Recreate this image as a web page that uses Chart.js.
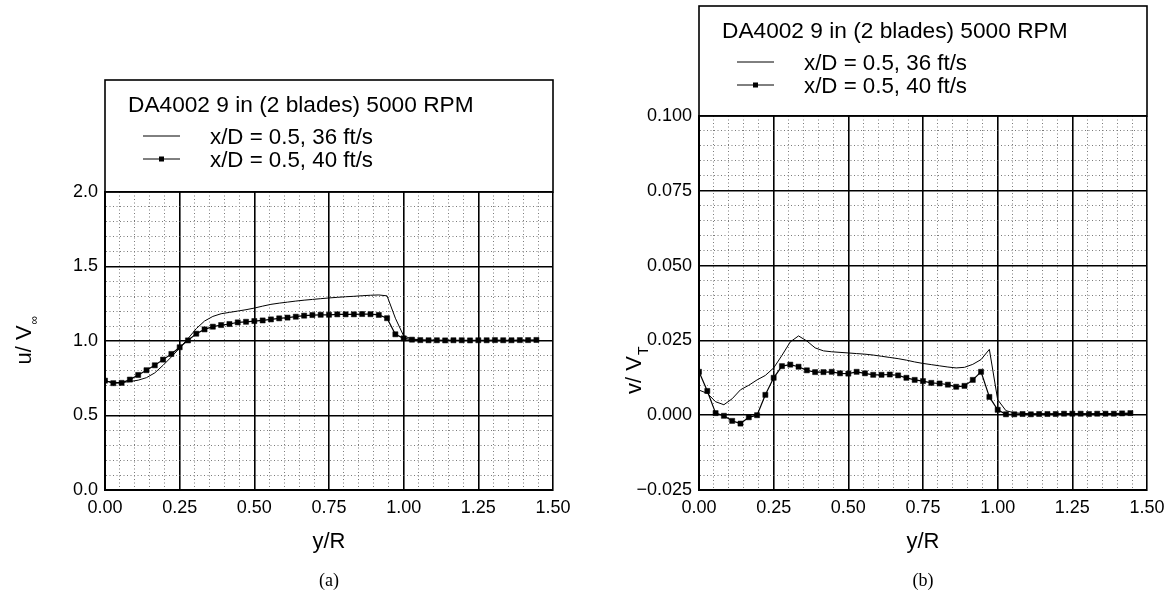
<!DOCTYPE html>
<html>
<head>
<meta charset="utf-8">
<script src="https://cdn.jsdelivr.net/npm/chart.js@4.4.0/dist/chart.umd.min.js"></script>
<style>
  html, body { margin: 0; padding: 0; background: #fff; }
  #wrap { position: relative; width: 1173px; height: 598px; }
  canvas { position: absolute; top: 0; }
</style>
</head>
<body>
<div id="wrap">
  <canvas id="chartA" width="586" height="598" style="left:0"></canvas>
  <canvas id="chartB" width="587" height="598" style="left:586px"></canvas>
</div>
<script>
// y/R stations (1/8 in steps, R = 4.5 in)
const yR = [0, 0.0278, 0.0556, 0.0833, 0.1111, 0.1389, 0.1667, 0.1944, 0.2222, 0.25,
  0.2778, 0.3056, 0.3333, 0.3611, 0.3889, 0.4167, 0.4444, 0.4722, 0.5,
  0.5278, 0.5556, 0.5833, 0.6111, 0.6389, 0.6667, 0.6944, 0.7222, 0.75,
  0.7778, 0.8056, 0.8333, 0.8611, 0.8889, 0.9167, 0.9444, 0.9722, 1.0,
  1.0278, 1.0556, 1.0833, 1.1111, 1.1389, 1.1667, 1.1944, 1.2222, 1.25,
  1.2778, 1.3056, 1.3333, 1.3611, 1.3889, 1.4167, 1.4444];

// (a) u / V_inf
const u36 = [0.732, 0.722, 0.721, 0.728, 0.737, 0.754, 0.786, 0.837, 0.893, 0.953,
  1.016, 1.083, 1.134, 1.165, 1.183, 1.192, 1.201, 1.210, 1.221, 1.234,
  1.246, 1.254, 1.261, 1.268, 1.274, 1.279, 1.284, 1.289, 1.293, 1.297,
  1.300, 1.304, 1.307, 1.309, 1.303, 1.153, 1.034, 1.014, 1.008, 1.006,
  1.005, 1.004, 1.004, 1.003, 1.003, 1.003, 1.002, 1.002, 1.002, 1.002,
  1.002, 1.002, 1.002];
const u40 = [0.734, 0.717, 0.719, 0.741, 0.772, 0.804, 0.837, 0.875, 0.913, 0.958,
  1.004, 1.049, 1.078, 1.096, 1.107, 1.114, 1.125, 1.129, 1.134, 1.138,
  1.145, 1.152, 1.157, 1.163, 1.170, 1.174, 1.176, 1.176, 1.179, 1.179,
  1.179, 1.181, 1.180, 1.175, 1.153, 1.045, 1.018, 1.009, 1.006, 1.005,
  1.005, 1.004, 1.005, 1.005, 1.004, 1.005, 1.005, 1.006, 1.005, 1.005,
  1.006, 1.006, 1.007];

// (b) v / V_T
const v36 = [0.0084, 0.0073, 0.0045, 0.0035, 0.0055, 0.0085, 0.0100, 0.0118, 0.0133, 0.0158,
  0.0200, 0.0245, 0.0265, 0.0248, 0.0225, 0.0215, 0.0212, 0.0210, 0.0208, 0.0206,
  0.0204, 0.0201, 0.0197, 0.0193, 0.0189, 0.0184, 0.0178, 0.0173, 0.0169, 0.0165,
  0.0161, 0.0158, 0.0160, 0.0170, 0.0186, 0.0220, 0.0052, 0.0015, 0.0008, 0.0006,
  0.0005, 0.0005, 0.0005, 0.0005, 0.0005, 0.0005, 0.0005, 0.0005, 0.0005, 0.0005,
  0.0005, 0.0005, 0.0005];
const v40 = [0.0145, 0.0081, 0.0007, -0.0002, -0.0019, -0.0028, -0.0007, 0.0000, 0.0068, 0.0125,
  0.0164, 0.0169, 0.0162, 0.0150, 0.0144, 0.0144, 0.0145, 0.0140, 0.0139, 0.0145,
  0.0140, 0.0135, 0.0135, 0.0136, 0.0133, 0.0125, 0.0118, 0.0114, 0.0108, 0.0106,
  0.0102, 0.0095, 0.0098, 0.0118, 0.0145, 0.0061, 0.0018, 0.0003, 0.0003, 0.0004,
  0.0003, 0.0004, 0.0004, 0.0004, 0.0005, 0.0005, 0.0005, 0.0004, 0.0005, 0.0005,
  0.0005, 0.0006, 0.0007];

const seriesNames = ['x/D = 0.5, 36 ft/s', 'x/D = 0.5, 40 ft/s'];
const legendTitle = 'DA4002 9 in (2 blades) 5000 RPM';

// major tick spacing (labelled) and minor spacing (dotted grid)
const xMajor = 0.25, xMinor = 0.05;
const uMajor = 0.5, uMinor = 0.1;
const vMajor = 0.025, vMinor = 0.005;

const FONT = '"Liberation Sans", Arial, Helvetica, sans-serif';

function isMajor(v, step) {
  const r = v / step;
  return Math.abs(r - Math.round(r)) < 1e-6;
}

function fmt(v, dec) {
  const s = Math.abs(v).toFixed(dec);
  return v < -1e-9 ? '\u2212' + s : s;
}

function axis(min, max, major, minor, dec, fixedSize, isX) {
  return {
    type: 'linear',
    min: min, max: max,
    afterFit: s => { if (isX) s.height = fixedSize; else s.width = fixedSize; },
    ticks: {
      stepSize: minor,
      autoSkip: false,
      maxRotation: 0,
      padding: 7,
      color: '#000',
      font: { family: FONT, size: 18 },
      callback: v => isMajor(v, major) ? fmt(v, dec) : ''
    },
    grid: {
      drawTicks: false,
      color: c => isMajor(c.tick.value, major) ? '#000' : '#7a7a7a',
      lineWidth: c => isMajor(c.tick.value, major) ? 1.6 : 1
    },
    border: {
      display: true, color: '#000', width: 2,
      dash: c => (c.tick && !isMajor(c.tick.value, major)) ? [1, 2.5] : []
    }
  };
}

const frame = {
  id: 'frame',
  afterDraw(chart, args, o) {
    const { ctx, chartArea: a } = chart;
    ctx.save();
    ctx.strokeStyle = '#000';
    ctx.fillStyle = '#000';
    ctx.lineWidth = 1.6;
    ctx.strokeRect(a.left, o.boxTop, a.right - a.left, a.top - o.boxTop);

    ctx.textAlign = 'left';
    ctx.textBaseline = 'alphabetic';
    ctx.font = '22.7px ' + FONT;
    ctx.fillText(legendTitle, a.left + 23, o.boxTop + 32);
    ctx.font = '22.3px ' + FONT;
    seriesNames.forEach((name, i) => {
      const y = o.boxTop + 56 + i * 23;
      ctx.lineWidth = 1;
      ctx.beginPath();
      ctx.moveTo(a.left + 38, y);
      ctx.lineTo(a.left + 75, y);
      ctx.stroke();
      if (i === 1) ctx.fillRect(a.left + 54, y - 2.5, 5, 5);
      ctx.fillText(name, a.left + 105, y + 8);
    });

    // x title
    ctx.font = '22px ' + FONT;
    ctx.textAlign = 'center';
    ctx.fillText('y/R', (a.left + a.right) / 2, 548);

    // caption
    ctx.font = '18px "Liberation Serif", "DejaVu Serif", serif';
    ctx.fillText(o.caption, (a.left + a.right) / 2, 586);

    // y title with subscript
    ctx.translate(o.yx, o.yy);
    ctx.rotate(-Math.PI / 2);
    ctx.font = '22px ' + FONT;
    ctx.textAlign = 'center';
    const w = ctx.measureText(o.yMain).width;
    ctx.fillText(o.yMain, 0, 0);
    ctx.font = o.subSize + 'px ' + FONT;
    ctx.textAlign = 'left';
    ctx.fillText(o.ySub, w / 2 + 1, o.subDy);
    ctx.restore();
  }
};

function makeChart(id, a, b, yAxis, pad, opts) {
  return new Chart(document.getElementById(id), {
    type: 'line',
    data: {
      datasets: [
        {
          label: seriesNames[0],
          data: yR.map((x, i) => ({ x: x, y: a[i] })),
          borderColor: '#000', borderWidth: 1,
          pointRadius: 0, tension: 0, fill: false
        },
        {
          label: seriesNames[1],
          data: yR.map((x, i) => ({ x: x, y: b[i] })),
          borderColor: '#000', borderWidth: 1.2,
          pointStyle: 'rect', pointRadius: 3.6,
          pointBackgroundColor: '#000', pointBorderColor: '#000', pointBorderWidth: 0.5,
          tension: 0, fill: false
        }
      ]
    },
    options: {
      responsive: false,
      animation: false,
      layout: { padding: pad },
      plugins: { legend: { display: false }, tooltip: { enabled: false }, frame: opts },
      scales: {
        x: axis(0, 1.5, xMajor, xMinor, 2, 30, true),
        y: yAxis
      }
    },
    plugins: [frame]
  });
}

makeChart('chartA', u36, u40,
  axis(0, 2.0, uMajor, uMinor, 1, 60, false),
  { left: 45, right: 33, top: 192, bottom: 78 },
  { boxTop: 80, caption: '(a)', yMain: 'u/ V', ySub: '\u221E', subSize: 12, subDy: 7, yx: 31, yy: 345 });

makeChart('chartB', v36, v40,
  axis(-0.025, 0.1, vMajor, vMinor, 3, 62, false),
  { left: 51, right: 26, top: 116, bottom: 78 },
  { boxTop: 6, caption: '(b)', yMain: 'v/ V', ySub: 'T', subSize: 14, subDy: 7, yx: 55, yy: 375 });
</script>
</body>
</html>
